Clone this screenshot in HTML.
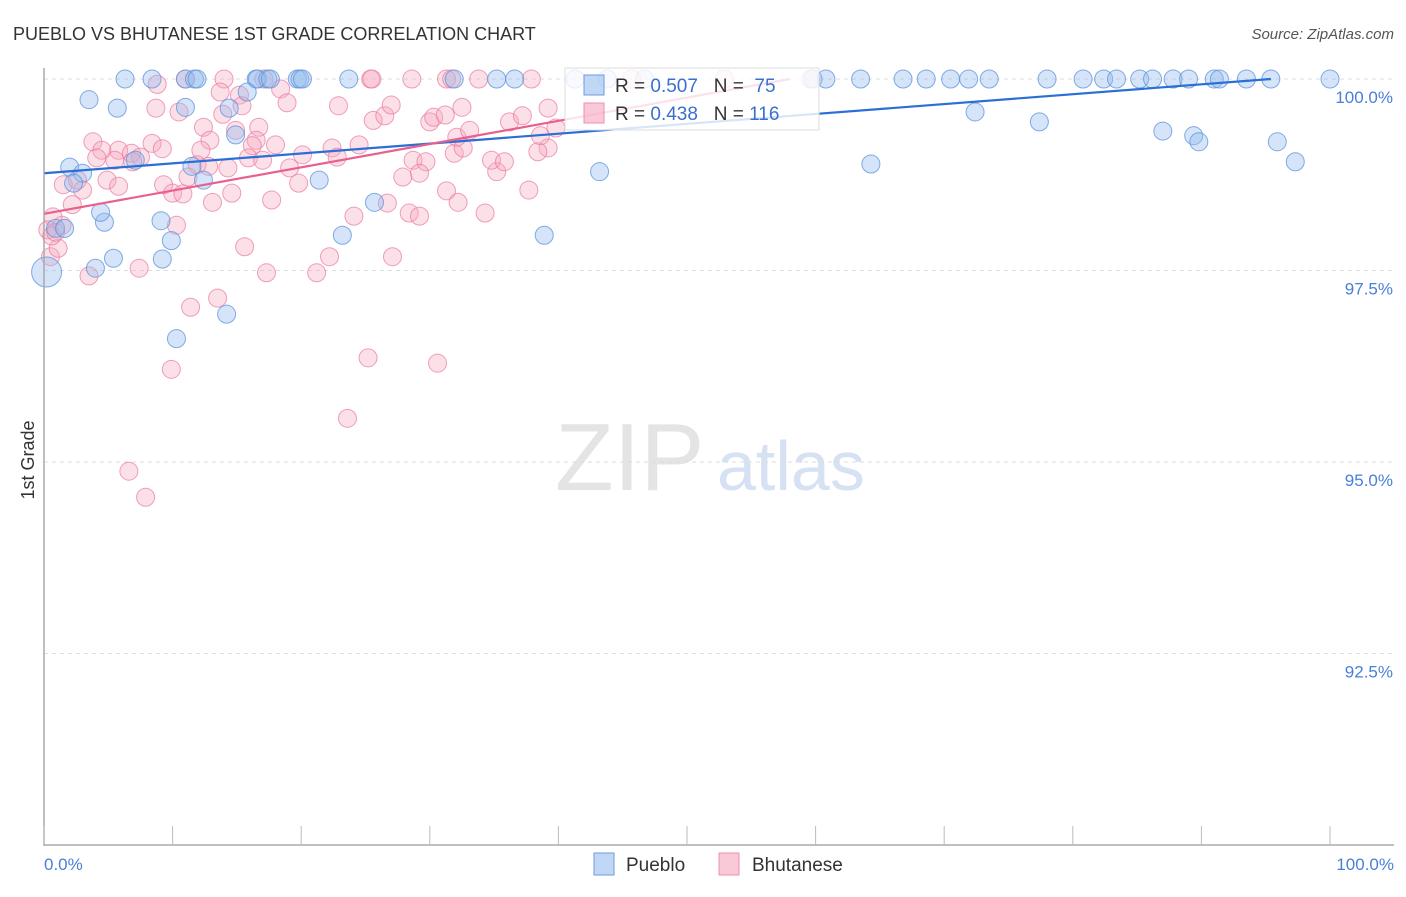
<!DOCTYPE html>
<html><head><meta charset="utf-8"><style>
body{margin:0;background:#fff;font-family:"Liberation Sans",sans-serif;}
#wrap{position:relative;width:1406px;height:892px;}
svg text{font-family:"Liberation Sans",sans-serif;}
</style></head><body>
<div id="wrap">
<svg id="svg" width="1406" height="892" xmlns="http://www.w3.org/2000/svg">
<text x="13" y="40" font-size="18" fill="#333">PUEBLO VS BHUTANESE 1ST GRADE CORRELATION CHART</text>
<text x="1394" y="39" font-size="15" fill="#555" font-style="italic" text-anchor="end">Source: ZipAtlas.com</text>
<text x="34" y="460" font-size="18" fill="#333" text-anchor="middle" transform="rotate(-90 34 460)">1st Grade</text>
<text x="555" y="490" font-size="96" fill="#e4e4e4" font-family="Liberation Serif">ZIP</text>
<text x="717" y="490" font-size="70" fill="#d6e2f3">atlas</text>
<g id="grid"></g><g id="pts"></g><g id="lines"></g><g id="legend"></g><g id="axes"></g>
</svg>
</div>
<script>
const yTicks=[100,97.5,95,92.5];
const yTickLabels=["100.0%","97.5%","95.0%","92.5%"];
const xTickVals=[0,10,20,30,40,50,60,70,80,90,100];
const puebloX=[6.3,8.4,11.0,11.7,11.9,16.5,16.6,17.4,17.6,19.7,19.9,20.1,23.7,31.9,35.2,36.6,41.3,43.8,46.7,59.8,60.8,63.5,66.8,68.6,70.5,71.9,73.5,78.0,80.8,82.4,83.4,85.2,86.2,87.8,89.0,91.0,91.4,93.5,95.4,100,
3.5,5.7,11.0,14.4,15.8,14.9,2.0,3.0,2.3,4.7,4.4,0.9,1.6,4.0,5.4,9.1,9.9,9.2,7.1,11.5,12.4,21.4,25.7,23.2,14.2,10.3,38.9,43.2,72.4,77.4,64.3,87.0,89.4,89.8,95.9,97.3,0.2];
const puebloY=[100,100,100,100,100,100,100,100,100,100,100,100,100,100,100,100,100,100,100,100,100,100,100,100,100,100,100,100,100,100,100,100,100,100,100,100,100,100,100,100,
99.73,99.62,99.63,99.62,99.83,99.27,98.85,98.77,98.64,98.13,98.26,98.05,98.05,97.53,97.66,98.15,97.89,97.65,98.94,98.86,98.68,98.68,98.39,97.96,96.93,96.61,97.96,98.79,99.57,99.44,98.89,99.32,99.26,99.18,99.18,98.92,97.48];
const bhutX=[11.0,14.0,17.1,25.4,25.5,28.6,31.3,31.7,33.8,37.9,45.7,52.9,59.6,
8.8,13.7,15.2,15.4,18.4,18.9,22.9,25.6,26.5,27.0,30.0,30.3,31.2,32.5,8.7,10.5,13.9,14.9,16.7,16.5,16.2,18.0,12.4,12.9,12.2,3.8,4.5,4.1,5.8,6.8,7.5,8.4,9.2,6.9,5.5,11.9,12.8,14.3,15.9,17.0,19.1,20.1,22.4,22.8,24.5,4.9,5.8,1.5,2.6,3.0,2.2,9.3,10.0,10.8,11.2,13.1,14.6,17.7,19.8,28.7,29.7,27.9,29.2,31.3,26.7,28.4,24.1,31.9,32.6,32.1,33.1,22.2,15.6,10.3,7.4,3.5,0.5,1.1,1.4,0.7,0.3,17.3,13.5,11.4,25.2,9.9,30.6,23.6,6.6,7.9,21.2,27.1,29.2,34.3,32.2,37.7,35.2,34.8,35.8,39.2,38.4,38.6,36.2,39.2,37.2,39.8,0.6,0.9];
const bhutY=[100,100,100,100,100,100,100,100,100,100,100,100,100,
99.93,99.83,99.79,99.65,99.87,99.69,99.65,99.46,99.52,99.66,99.44,99.50,99.53,99.63,99.62,99.57,99.54,99.33,99.37,99.20,99.13,99.14,99.37,99.20,99.07,99.18,99.07,98.97,99.07,99.03,98.98,99.16,99.09,98.92,98.94,98.88,98.86,98.84,98.97,98.94,98.84,99.01,99.10,98.98,99.14,98.68,98.60,98.62,98.68,98.55,98.36,98.62,98.51,98.50,98.72,98.39,98.51,98.42,98.64,98.94,98.92,98.72,98.77,98.54,98.38,98.25,98.21,99.03,99.10,99.24,99.33,97.68,97.81,98.09,97.53,97.43,97.68,97.79,98.09,98.20,98.03,97.47,97.14,97.02,96.36,96.21,96.29,95.57,94.88,94.54,97.47,97.68,98.21,98.25,98.39,98.55,98.79,98.94,98.92,99.10,99.05,99.26,99.44,99.62,99.52,99.36,97.95,98.0];
const puebloTrend=[[0,98.77],[95.4,100]];
const bhutTrend=[[0,98.24],[58,100]];
const NS="http://www.w3.org/2000/svg";
function sx(v){return 44+v*12.86;}
function sy(v){return 79+(100-v)*76.6;}
function mk(tag,attrs,parent){const e=document.createElementNS(NS,tag);for(const k in attrs)e.setAttribute(k,attrs[k]);parent.appendChild(e);return e;}
const grid=document.getElementById('grid'),pts=document.getElementById('pts'),lines=document.getElementById('lines'),leg=document.getElementById('legend'),axes=document.getElementById('axes');
yTicks.forEach((t,i)=>{
 const l=mk('line',{x1:44,x2:1394,y1:sy(t),y2:sy(t),stroke:'#ddd','stroke-dasharray':'4 4'},grid);
 
 
 const tx=mk('text',{x:1393,y:sy(t)+24,'font-size':17,fill:'#4a7fd8','text-anchor':'end'},axes);
 tx.textContent=yTickLabels[i];
 
 
});
const ya=mk('line',{x1:44,x2:44,y1:68,y2:846,stroke:'#aaa','stroke-width':1.5},axes);


const xa=mk('line',{x1:44,x2:1394,y1:845,y2:845,stroke:'#aaa','stroke-width':1.5},axes);


xTickVals.forEach(v=>{
 const t=mk('line',{x1:sx(v),x2:sx(v),y1:826,y2:845,stroke:'#bbb'},axes);
 
 
});
[[0,'start',44,'0.0%'],[100,'end',1394,'100.0%']].forEach(a=>{
 const t=mk('text',{x:a[2],y:870,'font-size':17,fill:'#4a7fd8','text-anchor':a[1]},axes);
 t.textContent=a[3];
 
 
});
function drawPts(X,Y,fill,stroke,name){
 X.forEach((x,i)=>{
  const big=(name==='pueblo-point'&&i===X.length-1);
  const c=mk('circle',{cx:sx(x),cy:sy(Y[i]),r:big?15:9,fill:fill,stroke:stroke,'stroke-width':1},pts);
  
  
 });
}
drawPts(bhutX,bhutY,'rgba(247,165,190,0.35)','rgba(234,120,160,0.7)','bhutanese-point');
drawPts(puebloX,puebloY,'rgba(150,188,238,0.4)','rgba(90,145,220,0.75)','pueblo-point');
const pl=mk('line',{x1:sx(puebloTrend[0][0]),y1:sy(puebloTrend[0][1]),x2:sx(puebloTrend[1][0]),y2:sy(puebloTrend[1][1]),stroke:'#2a6fd6','stroke-width':2.2},lines);


const bl=mk('line',{x1:sx(bhutTrend[0][0]),y1:sy(bhutTrend[0][1]),x2:sx(bhutTrend[1][0]),y2:sy(bhutTrend[1][1]),stroke:'#e8608f','stroke-width':2.2},lines);


// legend box
const lb=mk('rect',{x:565,y:68,width:254,height:62,fill:'rgba(255,255,255,0.82)',stroke:'#ddd'},leg);


[[0,'rgba(150,188,238,0.6)','#6c9be0','0.507','75'],[1,'rgba(247,165,190,0.6)','#ef8fb0','0.438','116']].forEach(r=>{
 const y=75+r[0]*28;
 const s=mk('rect',{x:584,y:y,width:20,height:20,fill:r[1],stroke:r[2]},leg);
 
 
 const t=mk('text',{x:615,y:y+17,'font-size':19,fill:'#333'},leg);
 t.innerHTML='R = <tspan fill="#3a6fd0">'+r[3]+'</tspan>&#160;&#160;&#160;N = <tspan fill="#3a6fd0">'+(r[4].length<3?'&#160;':'')+r[4]+'</tspan>';
 
 
});
// bottom legend
[[594,'rgba(150,188,238,0.6)','#6c9be0','Pueblo',626],[719,'rgba(247,165,190,0.6)','#ef8fb0','Bhutanese',752]].forEach(r=>{
 const s=mk('rect',{x:r[0],y:853,width:20,height:22,fill:r[1],stroke:r[2]},axes);
 
 
 const t=mk('text',{x:r[4],y:871,'font-size':19,fill:'#333'},axes);
 t.textContent=r[3];
 
 
});
</script>
</body></html>
